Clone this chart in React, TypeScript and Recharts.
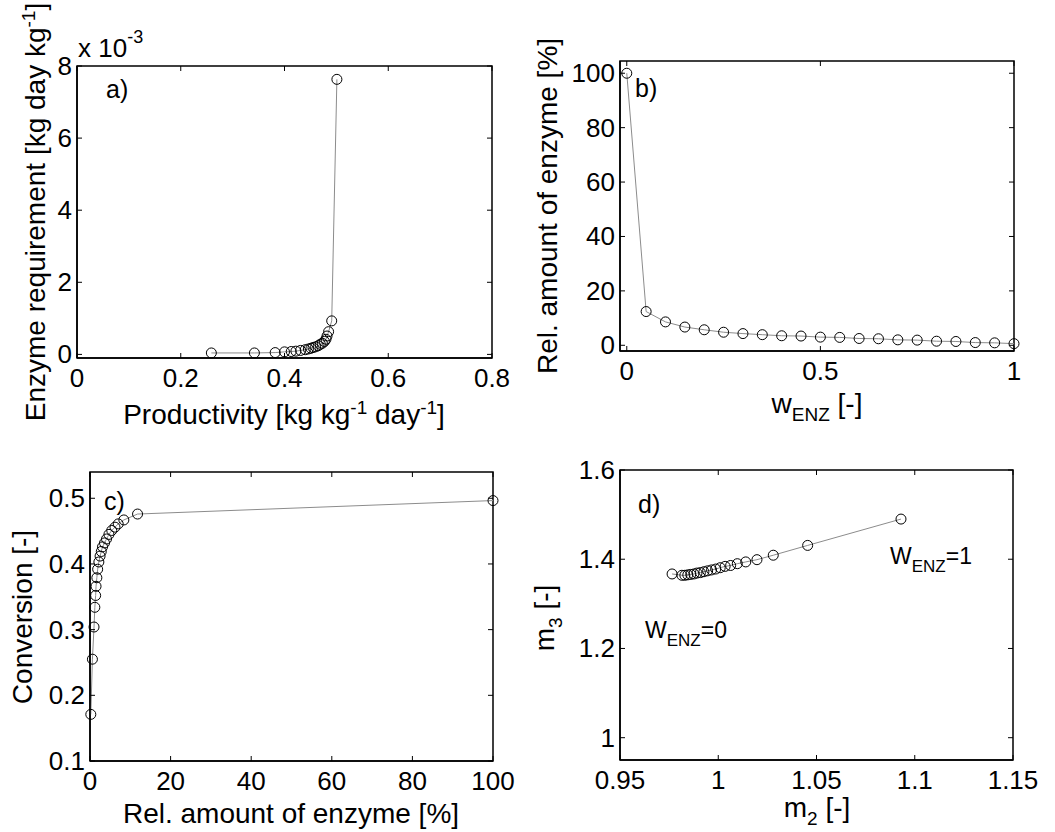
import React from 'react';
import { LineChart, Line, XAxis, YAxis, ReferenceArea } from 'recharts';

// a) productivity vs enzyme requirement (x 10^-3)
const prodX = [0.259, 0.342, 0.382, 0.4, 0.413, 0.422, 0.431, 0.44, 0.446, 0.451, 0.455, 0.46, 0.465, 0.469, 0.473, 0.477, 0.48, 0.482, 0.485, 0.491, 0.501];
const enzReq = [0.04, 0.04, 0.05, 0.07, 0.08, 0.09, 0.11, 0.13, 0.15, 0.17, 0.19, 0.21, 0.24, 0.28, 0.31, 0.36, 0.42, 0.51, 0.63, 0.93, 7.63];

// b) w_ENZ vs relative amount of enzyme
const wEnz = [0, 0.05, 0.1, 0.15, 0.2, 0.25, 0.3, 0.35, 0.4, 0.45, 0.5, 0.55, 0.6, 0.65, 0.7, 0.75, 0.8, 0.85, 0.9, 0.95, 1];
const relEnzB = [100, 12.4, 8.6, 6.7, 5.7, 4.8, 4.3, 3.9, 3.5, 3.4, 3.0, 2.9, 2.5, 2.4, 2.0, 1.9, 1.5, 1.4, 1.0, 0.9, 0.6];

// c) relative amount of enzyme vs conversion
const relEnzC = [0.2, 0.6, 1.0, 1.2, 1.4, 1.5, 1.7, 1.9, 2.2, 2.5, 2.8, 3.1, 3.6, 4.1, 4.7, 5.4, 6.2, 7.0, 8.4, 11.8, 100];
const conversion = [0.171, 0.255, 0.304, 0.334, 0.352, 0.366, 0.379, 0.392, 0.403, 0.412, 0.419, 0.426, 0.432, 0.438, 0.445, 0.451, 0.456, 0.461, 0.467, 0.476, 0.4965];

// d) m2 vs m3
const m2 = [0.9765, 0.9815, 0.983, 0.9845, 0.986, 0.9876, 0.9892, 0.9909, 0.9927, 0.9946, 0.9966, 0.9987, 1.001, 1.0035, 1.0063, 1.0097, 1.014, 1.0197, 1.028, 1.0455, 1.093];
const m3 = [1.367, 1.364, 1.364, 1.365, 1.366, 1.367, 1.369, 1.37, 1.372, 1.374, 1.376, 1.378, 1.381, 1.384, 1.386, 1.39, 1.394, 1.399, 1.409, 1.431, 1.49];

const FONT = 'Liberation Sans, Arial, sans-serif';
const FS = 26; // tick labels
const LFS = 28; // axis titles
const SUP = 19;
const LINE_COLOR = '#8c8c8c';
const TICK_LEN = 5;
const AX = 30; // reserved size for bottom / left axes

const zip = (xs: number[], ys: number[]) => xs.map((x, i) => ({ x, y: ys[i] }));

// bottom tick: label outside, tick marks inside at bottom and top of the box
const BottomTick = (props: any) => {
  const { x, y, payload, plotTop } = props;
  return (
    <g>
      <line x1={x} y1={y} x2={x} y2={y - TICK_LEN} stroke="#000" />
      <line x1={x} y1={plotTop} x2={x} y2={plotTop + TICK_LEN} stroke="#000" />
      <text x={x} y={y + 29} textAnchor="middle" fontSize={FS} fontFamily={FONT} fill="#000">
        {String(payload.value)}
      </text>
    </g>
  );
};

// left tick: label outside, tick marks inside at left and right of the box
const LeftTick = (props: any) => {
  const { x, y, payload, plotRight } = props;
  return (
    <g>
      <line x1={x} y1={y} x2={x + TICK_LEN} y2={y} stroke="#000" />
      <line x1={plotRight} y1={y} x2={plotRight - TICK_LEN} y2={y} stroke="#000" />
      <text x={x - 5} y={y + 9} textAnchor="end" fontSize={FS} fontFamily={FONT} fill="#000">
        {String(payload.value)}
      </text>
    </g>
  );
};

type PanelProps = {
  left: number;
  top: number;
  width: number;
  height: number;
  margin: { top: number; right: number; bottom: number; left: number };
  data: { x: number; y: number }[];
  xDomain: [number, number];
  yDomain: [number, number];
  xTicks: number[];
  yTicks: number[];
  children?: React.ReactNode;
};

function Panel({ left, top, width, height, margin, data, xDomain, yDomain, xTicks, yTicks, children }: PanelProps) {
  // margin describes the plot box; the bottom and left axes eat part of it
  const m = {
    top: margin.top,
    right: margin.right,
    bottom: margin.bottom - AX,
    left: margin.left - AX,
  };
  const plotTop = margin.top;
  const plotRight = width - margin.right;
  const axisLine = { stroke: '#000', strokeWidth: 1.5 };
  return (
    <div style={{ position: 'absolute', left, top, width, height }}>
      <LineChart width={width} height={height} data={data} margin={m}>
        <XAxis
          dataKey="x"
          type="number"
          domain={xDomain}
          ticks={xTicks}
          interval={0}
          height={AX}
          tickSize={0}
          tickMargin={0}
          tickLine={false}
          axisLine={axisLine}
          tick={(p: any) => <BottomTick {...p} plotTop={plotTop} />}
        />
        <YAxis
          type="number"
          domain={yDomain}
          ticks={yTicks}
          interval={0}
          width={AX}
          tickSize={0}
          tickMargin={0}
          tickLine={false}
          axisLine={axisLine}
          tick={(p: any) => <LeftTick {...p} plotRight={plotRight} />}
        />
        <ReferenceArea
          x1={xDomain[0]}
          x2={xDomain[1]}
          y1={yDomain[0]}
          y2={yDomain[1]}
          fill="none"
          stroke="#000"
          strokeWidth={1.5}
          ifOverflow="visible"
        />
        <Line
          type="linear"
          dataKey="y"
          stroke={LINE_COLOR}
          strokeWidth={1}
          dot={{ r: 5, fill: 'none', stroke: '#000', strokeWidth: 1 }}
          activeDot={false}
          isAnimationActive={false}
        />
        {children}
      </LineChart>
    </div>
  );
}

const T = (props: any) => <text fontFamily={FONT} fontSize={LFS} fill="#000" {...props} />;

const VLabel = ({ x, y, children }: { x: number; y: number; children: React.ReactNode }) => (
  <text x={x} y={y} transform={`rotate(-90 ${x} ${y})`} textAnchor="middle" fontFamily={FONT} fontSize={LFS} fill="#000">
    {children}
  </text>
);

export default function App() {
  return (
    <div style={{ position: 'absolute', left: 0, top: 0, width: 1055, height: 832, background: '#fff' }}>
      {/* a) */}
      <Panel
        left={0}
        top={0}
        width={527}
        height={440}
        margin={{ top: 66, left: 77, right: 35, bottom: 82 }}
        data={zip(prodX, enzReq)}
        xDomain={[0, 0.8]}
        yDomain={[-0.1, 8]}
        xTicks={[0, 0.2, 0.4, 0.6, 0.8]}
        yTicks={[0, 2, 4, 6, 8]}
      >
        <T x={106} y={98} fontSize={25}>a)</T>
        <T x={78} y={57} fontSize={FS}>
          x 10<tspan dy={-14} fontSize={18}>-3</tspan>
        </T>
        <VLabel x={45} y={212}>
          Enzyme requirement [kg day kg<tspan dy={-10} fontSize={SUP}>-1</tspan><tspan dy={10}>]</tspan>
        </VLabel>
        <T x={284} y={424} textAnchor="middle">
          Productivity [kg kg<tspan dy={-10} fontSize={SUP}>-1</tspan>
          <tspan dy={10}> day</tspan>
          <tspan dy={-10} fontSize={SUP}>-1</tspan>
          <tspan dy={10}>]</tspan>
        </T>
      </Panel>

      {/* b) */}
      <Panel
        left={527}
        top={0}
        width={528}
        height={440}
        margin={{ top: 61, left: 93, right: 41, bottom: 89 }}
        data={zip(wEnz, relEnzB)}
        xDomain={[-0.0175, 1]}
        yDomain={[-2.1, 104.5]}
        xTicks={[0, 0.5, 1]}
        yTicks={[0, 20, 40, 60, 80, 100]}
      >
        <T x={108} y={97} fontSize={25}>b)</T>
        <VLabel x={30} y={206}>Rel. amount of enzyme [%]</VLabel>
        <T x={290} y={413} textAnchor="middle">
          w<tspan dy={8} fontSize={SUP}>ENZ</tspan>
          <tspan dy={-8}> [-]</tspan>
        </T>
      </Panel>

      {/* c) */}
      <Panel
        left={0}
        top={440}
        width={527}
        height={392}
        margin={{ top: 32, left: 90, right: 34, bottom: 71 }}
        data={zip(relEnzC, conversion)}
        xDomain={[0, 100]}
        yDomain={[0.1, 0.54]}
        xTicks={[0, 20, 40, 60, 80, 100]}
        yTicks={[0.1, 0.2, 0.3, 0.4, 0.5]}
      >
        <T x={104} y={70} fontSize={25}>c)</T>
        <VLabel x={32} y={177}>Conversion [-]</VLabel>
        <T x={291} y={383} textAnchor="middle">Rel. amount of enzyme [%]</T>
      </Panel>

      {/* d) */}
      <Panel
        left={527}
        top={440}
        width={528}
        height={392}
        margin={{ top: 30, left: 93, right: 42, bottom: 72 }}
        data={zip(m2, m3)}
        xDomain={[0.95, 1.15]}
        yDomain={[0.95, 1.6]}
        xTicks={[0.95, 1, 1.05, 1.1, 1.15]}
        yTicks={[1, 1.2, 1.4, 1.6]}
      >
        <T x={111} y={73} fontSize={25}>d)</T>
        <VLabel x={27} y={178}>
          m<tspan dy={8} fontSize={SUP}>3</tspan>
          <tspan dy={-8}> [-]</tspan>
        </VLabel>
        <T x={290} y={377} textAnchor="middle">
          m<tspan dy={8} fontSize={SUP}>2</tspan>
          <tspan dy={-8}> [-]</tspan>
        </T>
        <T x={118} y={198} fontSize={23}>
          W<tspan dy={8} fontSize={17}>ENZ</tspan>
          <tspan dy={-8}>=0</tspan>
        </T>
        <T x={363} y={124} fontSize={23}>
          W<tspan dy={8} fontSize={17}>ENZ</tspan>
          <tspan dy={-8}>=1</tspan>
        </T>
      </Panel>
    </div>
  );
}
